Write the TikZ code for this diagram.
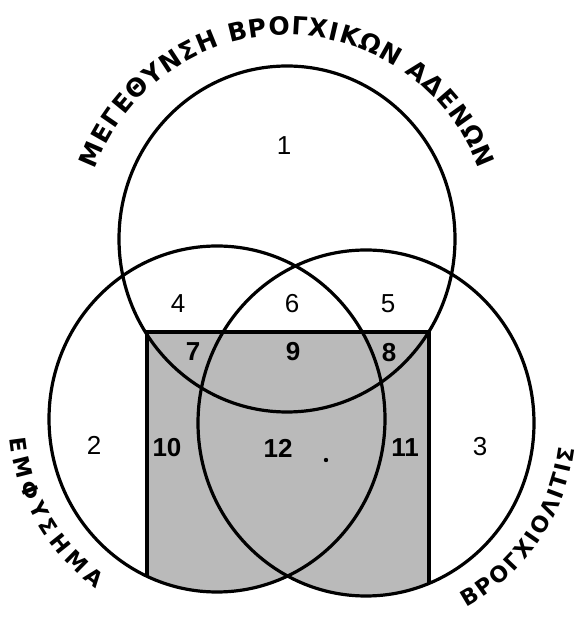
\documentclass[tikz,border=0pt]{standalone}
\usepackage{fontspec}
\setmainfont{Liberation Sans}
\newfontfamily\lblfont{DejaVu Sans}
\usetikzlibrary{decorations.text}
\begin{document}
\begin{tikzpicture}[x=1pt,y=1pt,
  ring/.style={line width=3.2pt},
  boxline/.style={line width=3.6pt,line join=miter},
  num/.style={inner sep=0pt,font=\fontsize{26}{26}\selectfont},
  bnum/.style={inner sep=0pt,font=\fontsize{26}{26}\selectfont\bfseries},
  shaded/.style={fill=black!27},
  ell/.style={x radius=168,y radius=173}]
\useasboundingbox[fill=white] (0,0) rectangle (579,618);
\coordinate (T) at (287,379);
\coordinate (L) at (217,199);
\coordinate (R) at (366,195);
% shaded region: rectangle within the union of the two lower circles
\begin{scope}
  \clip (147,286) rectangle (429,0);
  \fill[shaded] (L) ellipse [ell];
  \fill[shaded] (R) ellipse [ell];
\end{scope}
\foreach \c in {L,R}{
  \begin{scope}
    \clip (\c) ellipse [ell];
    \draw[boxline] (147,8) rectangle (429,286);
  \end{scope}}
% circles
\draw[ring] (T) ellipse [ell];
\draw[ring] (L) ellipse [ell];
\draw[ring] (R) ellipse [ell];
% numbers
\node[num] (n1) at (284,472) {1};
\node[num] (n2) at (94,173) {2};
\node[num] (n3) at (480,171) {3};
\node[num] (n4) at (178,314) {4};
\node[num] (n5) at (388,314) {5};
\node[num] (n6) at (292,314) {6};
\node[bnum] (n7) at (193,266) {7};
\node[bnum] (n8) at (389,265) {8};
\node[bnum] (n9) at (293,266) {9};
\node[bnum] (n10) at (167,170) {10};
\node[bnum] (n11) at (405,170) {11};
\node[bnum] (n12) at (278,170) {12};
\fill (326,158) circle (2.2);
% curved labels
\path[decorate,decoration={text along path,text align=fit to path,
  text={|\lblfont\fontsize{25}{25}\selectfont\bfseries|ΜΕΓΕΘΥΝΣΗ ΒΡΟΓΧΙΚΩΝ ΑΔΕΝΩΝ}}]
  ([shift={(160:204)}]T) arc[start angle=160,end angle=20,radius=204];
\path[decorate,decoration={text along path,text align=fit to path,
  text={|\lblfont\fontsize{22}{22}\selectfont\bfseries|ΕΜΦΥΣΗΜΑ}}]
  ([shift={(185.5:208)}]L) arc[start angle=185.5,end angle=234.5,radius=208];
\path[decorate,decoration={text along path,text align=fit to path,
  text={|\lblfont\fontsize{22}{22}\selectfont\bfseries|ΒΡΟΓΧΙΟΛΙΤΙΣ}}]
  ([shift={(-61.5:210)}]R) arc[start angle=-61.5,end angle=-7,radius=210];
\end{tikzpicture}
\end{document}
